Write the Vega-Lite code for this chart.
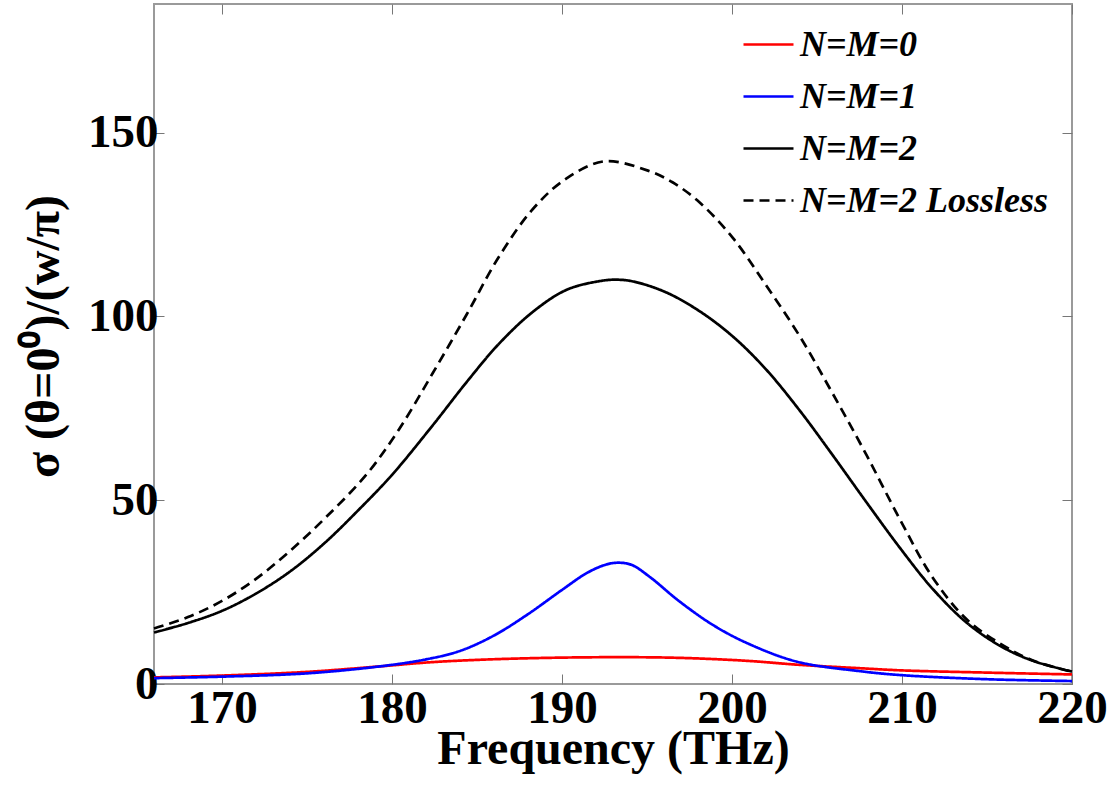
{
  "$schema": "https://vega.github.io/schema/vega-lite/v6.json",
  "autosize": {"type": "none"},
  "width": 918,
  "height": 680,
  "padding": {"left": 154, "top": 4, "right": 43, "bottom": 106},
  "background": "white",
  "config": {"view": {"stroke": "#9a9a9a", "strokeWidth": 2}, "font": "Liberation Serif"},
  "data": {"values": [
    {"s": "N=M=0", "f": 166, "v": 1.8}, {"s": "N=M=0", "f": 170, "v": 2.3}, {"s": "N=M=0", "f": 175, "v": 3.3}, {"s": "N=M=0", "f": 179.3, "v": 4.8}, {"s": "N=M=0", "f": 182.2, "v": 5.9}, {"s": "N=M=0", "f": 185.2, "v": 6.6}, {"s": "N=M=0", "f": 189, "v": 7.1}, {"s": "N=M=0", "f": 193.5, "v": 7.3}, {"s": "N=M=0", "f": 197, "v": 7.1}, {"s": "N=M=0", "f": 200.9, "v": 6.3}, {"s": "N=M=0", "f": 204, "v": 5.2}, {"s": "N=M=0", "f": 207.5, "v": 4.3}, {"s": "N=M=0", "f": 210, "v": 3.7}, {"s": "N=M=0", "f": 215, "v": 3.1}, {"s": "N=M=0", "f": 220, "v": 2.6},
    {"s": "N=M=1", "f": 166, "v": 1.6}, {"s": "N=M=1", "f": 170, "v": 2.0}, {"s": "N=M=1", "f": 175, "v": 2.9}, {"s": "N=M=1", "f": 179.3, "v": 4.8}, {"s": "N=M=1", "f": 182, "v": 6.7}, {"s": "N=M=1", "f": 184, "v": 9.0}, {"s": "N=M=1", "f": 186, "v": 13.2}, {"s": "N=M=1", "f": 188, "v": 19.0}, {"s": "N=M=1", "f": 190, "v": 25.6}, {"s": "N=M=1", "f": 191.5, "v": 30.3}, {"s": "N=M=1", "f": 192.6, "v": 32.5}, {"s": "N=M=1", "f": 193.3, "v": 33.0}, {"s": "N=M=1", "f": 194.1, "v": 32.4}, {"s": "N=M=1", "f": 195.2, "v": 29.0}, {"s": "N=M=1", "f": 196.9, "v": 22.5}, {"s": "N=M=1", "f": 198.9, "v": 16.0}, {"s": "N=M=1", "f": 200.9, "v": 11.1}, {"s": "N=M=1", "f": 203.8, "v": 6.1}, {"s": "N=M=1", "f": 207.5, "v": 3.5}, {"s": "N=M=1", "f": 210, "v": 2.4}, {"s": "N=M=1", "f": 215, "v": 1.3}, {"s": "N=M=1", "f": 220, "v": 0.8},
    {"s": "N=M=2", "f": 166, "v": 14.0}, {"s": "N=M=2", "f": 168, "v": 16.6}, {"s": "N=M=2", "f": 170, "v": 19.9}, {"s": "N=M=2", "f": 172, "v": 24.6}, {"s": "N=M=2", "f": 174, "v": 30.6}, {"s": "N=M=2", "f": 176, "v": 38.2}, {"s": "N=M=2", "f": 178, "v": 47.2}, {"s": "N=M=2", "f": 180, "v": 56.9}, {"s": "N=M=2", "f": 182.4, "v": 70.4}, {"s": "N=M=2", "f": 184.4, "v": 82.2}, {"s": "N=M=2", "f": 186.3, "v": 92.6}, {"s": "N=M=2", "f": 188.3, "v": 101.3}, {"s": "N=M=2", "f": 190.25, "v": 107.2}, {"s": "N=M=2", "f": 192.2, "v": 109.6}, {"s": "N=M=2", "f": 193.2, "v": 110.0}, {"s": "N=M=2", "f": 194.2, "v": 109.5}, {"s": "N=M=2", "f": 196.1, "v": 106.6}, {"s": "N=M=2", "f": 198.1, "v": 101.4}, {"s": "N=M=2", "f": 200.06, "v": 94.5}, {"s": "N=M=2", "f": 202, "v": 85.6}, {"s": "N=M=2", "f": 204, "v": 74.3}, {"s": "N=M=2", "f": 205.9, "v": 62.4}, {"s": "N=M=2", "f": 207.9, "v": 49.5}, {"s": "N=M=2", "f": 209.9, "v": 36.9}, {"s": "N=M=2", "f": 211.8, "v": 25.9}, {"s": "N=M=2", "f": 213.8, "v": 16.7}, {"s": "N=M=2", "f": 215.8, "v": 10.3}, {"s": "N=M=2", "f": 217.7, "v": 6.3}, {"s": "N=M=2", "f": 220, "v": 3.4},
    {"s": "N=M=2 Lossless", "f": 166, "v": 15.1}, {"s": "N=M=2 Lossless", "f": 168, "v": 18.2}, {"s": "N=M=2 Lossless", "f": 170, "v": 22.6}, {"s": "N=M=2 Lossless", "f": 172, "v": 28.6}, {"s": "N=M=2 Lossless", "f": 174, "v": 36.2}, {"s": "N=M=2 Lossless", "f": 176.1, "v": 45.3}, {"s": "N=M=2 Lossless", "f": 178.5, "v": 57.0}, {"s": "N=M=2 Lossless", "f": 180.4, "v": 69.2}, {"s": "N=M=2 Lossless", "f": 182.4, "v": 84.6}, {"s": "N=M=2 Lossless", "f": 184.4, "v": 100.6}, {"s": "N=M=2 Lossless", "f": 186.3, "v": 116.3}, {"s": "N=M=2 Lossless", "f": 188.3, "v": 129.3}, {"s": "N=M=2 Lossless", "f": 190.25, "v": 137.5}, {"s": "N=M=2 Lossless", "f": 192.5, "v": 142.2}, {"s": "N=M=2 Lossless", "f": 195.1, "v": 139.6}, {"s": "N=M=2 Lossless", "f": 196.5, "v": 136.5}, {"s": "N=M=2 Lossless", "f": 198.1, "v": 131.0}, {"s": "N=M=2 Lossless", "f": 200.06, "v": 121.3}, {"s": "N=M=2 Lossless", "f": 202, "v": 108.5}, {"s": "N=M=2 Lossless", "f": 204, "v": 94.5}, {"s": "N=M=2 Lossless", "f": 205.9, "v": 79.2}, {"s": "N=M=2 Lossless", "f": 207.9, "v": 62.4}, {"s": "N=M=2 Lossless", "f": 209.9, "v": 44.6}, {"s": "N=M=2 Lossless", "f": 211.8, "v": 29.0}, {"s": "N=M=2 Lossless", "f": 213.8, "v": 17.6}, {"s": "N=M=2 Lossless", "f": 215.8, "v": 10.9}, {"s": "N=M=2 Lossless", "f": 217.7, "v": 6.4}, {"s": "N=M=2 Lossless", "f": 220, "v": 3.3}
  ]},
  "layer": [
    {
      "mark": {"type": "line", "strokeWidth": 2.7, "interpolate": "catmull-rom"},
      "encoding": {
        "x": {"field": "f", "type": "quantitative", "scale": {"domain": [166, 220], "nice": false, "zero": false},
          "axis": {"orient": "bottom", "values": [170, 180, 190, 200, 210, 220], "domain": false, "grid": false, "ticks": true, "tickSize": -10, "tickColor": "#777", "tickWidth": 1,
            "labelFont": "Liberation Serif", "labelFontSize": 47, "labelFontWeight": "bold", "labelColor": "black", "labelBaseline": "alphabetic", "labelPadding": 48, "labelFlush": false,
            "title": "Frequency (THz)", "titleFont": "Liberation Serif", "titleFontSize": 48, "titleFontWeight": "bold", "titleColor": "black", "titleBaseline": "alphabetic", "titleY": 79}},
        "y": {"field": "v", "type": "quantitative", "scale": {"domain": [0, 185], "nice": false},
          "axis": {"orient": "left", "values": [0, 50, 100, 150], "domain": false, "grid": false, "ticks": true, "tickSize": -10, "tickColor": "#777", "tickWidth": 1,
            "labelFont": "Liberation Serif", "labelFontSize": 47, "labelFontWeight": "bold", "labelColor": "black", "labelBaseline": "middle", "labelPadding": 6, "labelFlush": false,
            "title": "σ (θ=0⁰)/(w/π)", "titleFont": "Liberation Serif", "titleFontSize": 48, "titleFontWeight": "bold", "titleColor": "black", "titleBaseline": "alphabetic", "titleX": -96, "titleY": 332, "titleAngle": -90}},
        "color": {"field": "s", "type": "nominal", "title": null,
          "scale": {"domain": ["N=M=0", "N=M=1", "N=M=2", "N=M=2 Lossless"], "range": ["#ff0000", "#0000ff", "#000000", "#000000"]},
          "legend": {"orient": "none", "legendX": 588, "legendY": 14, "symbolType": "stroke", "symbolSize": 2500, "symbolStrokeWidth": 2.7, "labelFont": "Liberation Serif", "labelFontSize": 36, "labelFontWeight": "bold", "labelFontStyle": "italic", "labelColor": "black", "labelOffset": 5, "rowPadding": 7, "padding": 0, "labelLimit": 400}},
        "strokeDash": {"field": "s", "type": "nominal", "title": null,
          "scale": {"domain": ["N=M=0", "N=M=1", "N=M=2", "N=M=2 Lossless"], "range": [[1, 0], [1, 0], [1, 0], [10, 6]]},
          "legend": {"orient": "none", "legendX": 588, "legendY": 14, "symbolType": "stroke", "symbolSize": 2500, "symbolStrokeWidth": 2.7, "labelFont": "Liberation Serif", "labelFontSize": 36, "labelFontWeight": "bold", "labelFontStyle": "italic", "labelColor": "black", "labelOffset": 5, "rowPadding": 7, "padding": 0, "labelLimit": 400}}
      }
    },
    {
      "mark": {"type": "point", "opacity": 0},
      "encoding": {
        "x": {"field": "f", "type": "quantitative", "axis": {"orient": "top", "values": [170, 180, 190, 200, 210, 220], "domain": false, "grid": false, "labels": false, "tickSize": -10, "tickColor": "#777", "tickWidth": 1, "title": null}},
        "y": {"field": "v", "type": "quantitative", "axis": {"orient": "right", "values": [0, 50, 100, 150], "domain": false, "grid": false, "labels": false, "tickSize": -10, "tickColor": "#777", "tickWidth": 1, "title": null}}
      }
    }
  ],
  "resolve": {"axis": {"x": "independent", "y": "independent"}}
}
